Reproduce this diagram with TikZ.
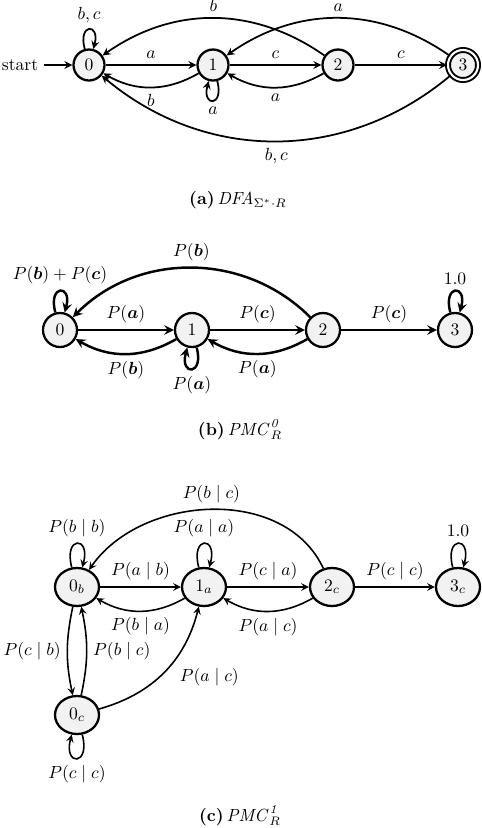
\documentclass[tikz,border=0pt]{standalone}
\usepackage{amsmath,amssymb}
\usepackage{xcolor}
\usepackage{tikz}
\usetikzlibrary{arrows.meta,positioning,shapes.geometric}

\begin{document}
\begin{tikzpicture}[->,>=stealth,auto,on grid,
  st/.style={circle,draw,line width=1.3pt,fill=gray!10,minimum size=0.62cm,inner sep=0pt},
  pst/.style={st,minimum size=0.68cm},
  fin/.style={st,double,line width=1.1pt,double distance=1.2pt,minimum size=0.6cm},
  cst/.style={ellipse,draw,line width=1.3pt,fill=gray!10,minimum width=0.88cm,minimum height=0.76cm,inner sep=0pt},
  ea/.style={line width=1pt},eb/.style={line width=1.4pt},ec/.style={line width=0.9pt},
  capt/.style={font=\normalsize}]
\useasboundingbox (0,0) rectangle (9.64,-16.56);
\node[st] (a0) at (1.78,-1.30) {$0$};
\node[st,right=2.48cm of a0] (a1) {$1$};
\node[st,right=2.50cm of a1] (a2) {$2$};
\node[fin,right=2.50cm of a2] (a3) {$3$};
\node[left=1.38cm of a0] (start) {start};
\node[capt] (capa) at (4.76,-4.0) {\textbf{(a)}\,$\mathit{DFA}_{\Sigma^*\cdot R}$};
\draw[ea] (start)--(a0);
\draw[ea] (a0) to [loop above] node {$b,c$} (a0);
\draw[ea] (a0) to node {$a$} (a1);\draw[ea] (a1) to [bend left] node {$b$} (a0);
\draw[ea] (a1) to [loop below] node {$a$} (a1);
\draw[ea] (a1) to node {$c$} (a2);\draw[ea] (a2) to [bend left] node {$a$} (a1);
\draw[ea] (a2) to node {$c$} (a3);
\draw[ea] (a2) to [bend right=35] node[swap] {$b$} (a0);
\draw[ea] (a3) to [bend right=35] node[swap] {$a$} (a1);
\draw[ea] (a3) to [bend left=40] node {$b,c$} (a0);

\node[pst] (b0) at (1.20,-6.60) {$0$};
\node[pst,right=2.64cm of b0] (b1) {$1$};
\node[pst,right=2.62cm of b1] (b2) {$2$};
\node[pst,right=2.64cm of b2] (b3) {$3$};
\node[capt] (capb) at (4.8,-8.60) {\textbf{(b)}\,$\mathit{PMC}^{\mathit{0}}_{R}$};
\draw[eb] (b0) to [loop above] node {$P(\boldsymbol{b})+P(\boldsymbol{c})$} (b0);
\draw[eb] (b0) to node {$P(\boldsymbol{a})$} (b1);\draw[eb] (b1) to [bend left] node {$P(\boldsymbol{b})$} (b0);
\draw[eb] (b1) to [loop below] node {$P(\boldsymbol{a})$} (b1);
\draw[eb] (b1) to node {$P(\boldsymbol{c})$} (b2);\draw[eb] (b2) to [bend left] node {$P(\boldsymbol{a})$} (b1);
\draw[eb] (b2) to node {$P(\boldsymbol{c})$} (b3);
\draw[eb] (b2) to [bend right=45] node[swap] {$P(\boldsymbol{b})$} (b0);
\draw[eb] (b3) to [loop above] node {$1.0$} (b3);

\node[cst] (c0b) at (1.54,-11.74) {$0_b$};
\node[cst,right=2.54cm of c0b] (c1a) {$1_a$};
\node[cst,right=2.56cm of c1a] (c2c) {$2_c$};
\node[cst,right=2.52cm of c2c] (c3c) {$3_c$};
\node[cst,below=2.56cm of c0b] (c0c) {$0_c$};
\node[capt] (capc) at (4.8,-16.32) {\textbf{(c)}\,$\mathit{PMC}^{\mathit{1}}_{R}$};
\draw[ec] (c0b) to [loop above] node {$P(b\mid b)$} (c0b);
\draw[ec] (c0b) to node {$P(a\mid b)$} (c1a);\draw[ec] (c1a) to [bend left] node {$P(b\mid a)$} (c0b);
\draw[ec] (c1a) to [loop above] node {$P(a\mid a)$} (c1a);
\draw[ec] (c1a) to node {$P(c\mid a)$} (c2c);\draw[ec] (c2c) to [bend left] node {$P(a\mid c)$} (c1a);
\draw[ec] (c2c) to node {$P(c\mid c)$} (c3c);
\draw[ec] (c3c) to [loop above] node {$1.0$} (c3c);
\draw[ec] (c2c) to [out=115,in=55,looseness=1] node[swap] {$P(b\mid c)$} (c0b);
\draw[ec] (c0b) to [bend right=12] node[swap] {$P(c\mid b)$} (c0c);
\draw[ec] (c0c) to [bend right=12] node[swap] {$P(b\mid c)$} (c0b);
\draw[ec] (c0c) to [bend right=30] node[swap,pos=0.6] {$P(a\mid c)$} (c1a);
\draw[ec] (c0c) to [loop below] node {$P(c\mid c)$} (c0c);
\end{tikzpicture}
\end{document}
